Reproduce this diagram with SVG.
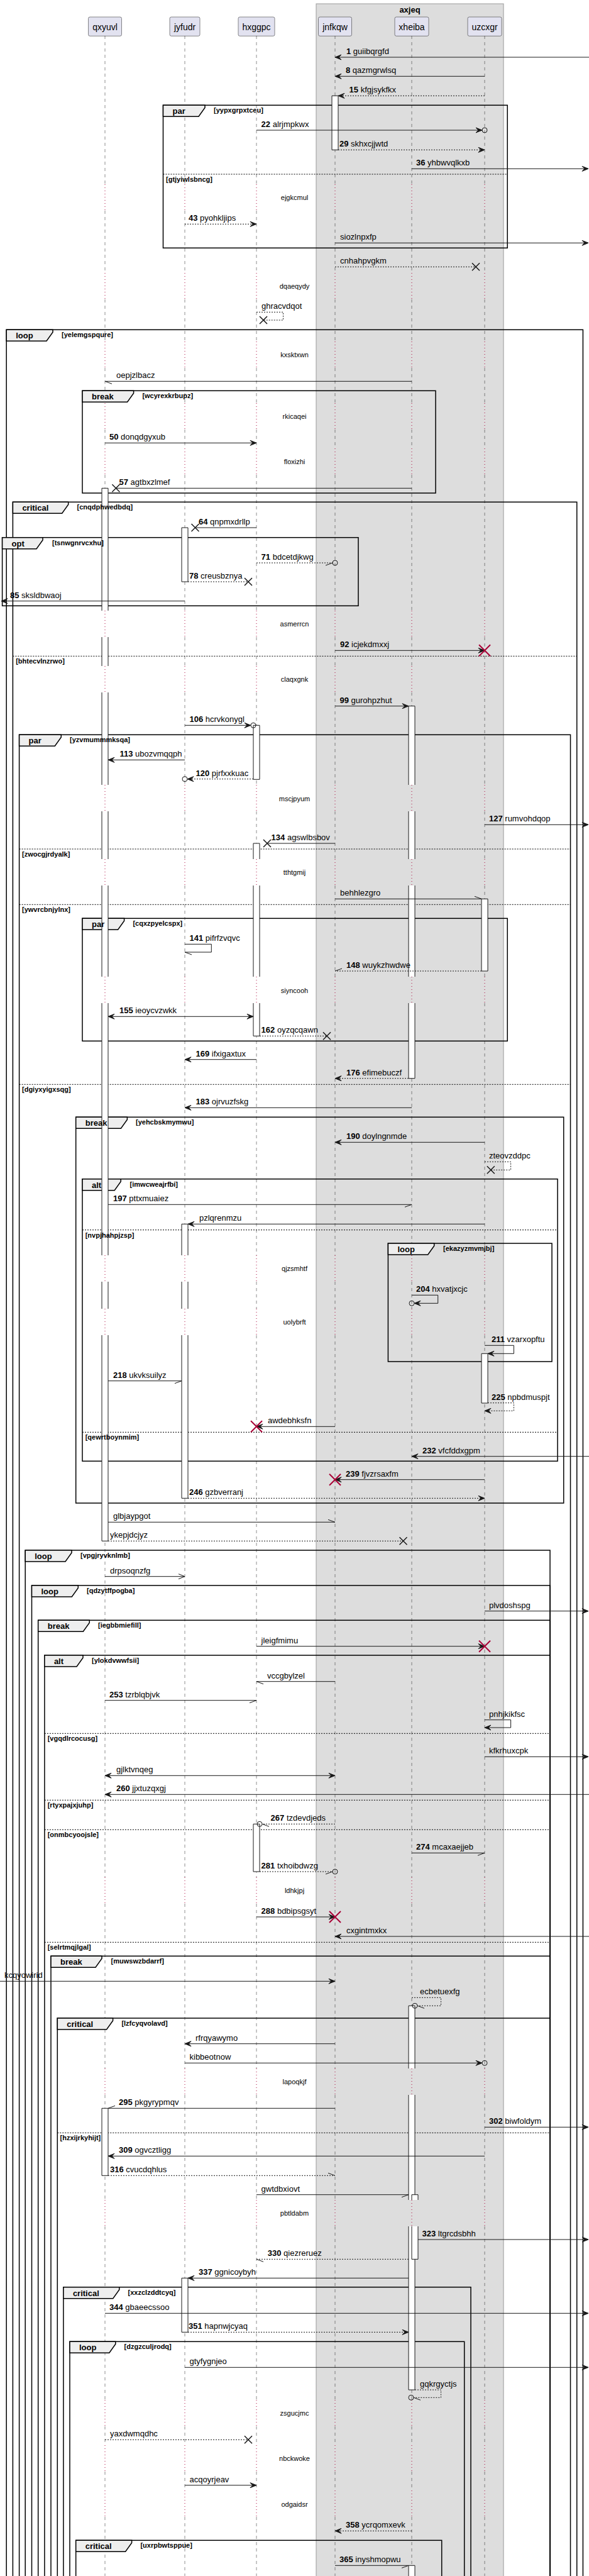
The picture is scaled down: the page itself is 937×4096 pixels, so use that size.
<svg xmlns="http://www.w3.org/2000/svg" xmlns:xlink="http://www.w3.org/1999/xlink" width="937" height="4096" viewBox="0 0 937 4096">
<style>
text{font-family:"Liberation Sans",Arial,sans-serif;fill:#000}
.pn{font-size:14px;text-anchor:middle}
.bt{font-size:13px;font-weight:bold;text-anchor:middle}
.m{font-size:13px}
.b{font-weight:bold}
.dl{font-size:11px;text-anchor:middle}
.k{font-size:13px;font-weight:bold}
.c{font-size:11px;font-weight:bold}
.ln{stroke:#181818;stroke-width:1;fill:none}
.ds{stroke-dasharray:2,2}
.hf{fill:#181818;stroke:#181818;stroke-width:1}
.hs{stroke:#181818;stroke-width:1;fill:none}
.ci{fill:none;stroke:#181818;stroke-width:1}
.xk{stroke:#181818;stroke-width:1.5;fill:none}
.xr{stroke:#A80036;stroke-width:2;fill:none}
.fr{fill:none;stroke:#000;stroke-width:1.5}
.tb{fill:#EEEEEE;stroke:#000;stroke-width:1.5}
.el{stroke:#000;stroke-width:1;stroke-dasharray:2,2;fill:none}
.af{fill:#fff;stroke:none}
.as{fill:none;stroke:#181818;stroke-width:1}
.lla{stroke:#181818;stroke-width:0.5;stroke-dasharray:5,5;fill:none}
.llb{stroke:#A80036;stroke-width:1;stroke-dasharray:1,4;fill:none}
.pb{fill:#E2E2F0;stroke:#181818;stroke-width:0.5}
</style>
<defs>
<polygon id="hR" points="0,0 -10,-4 -6,0 -10,4"/>
<polygon id="hL" points="0,0 10,-4 6,0 10,4"/>
<path id="lowR" d="M0,0L-11,4"/>
<path id="upR" d="M0,0L-11,-4"/>
<path id="lowL" d="M0,0L11,4"/>
<path id="upL" d="M0,0L11,-4"/>
<path id="openR" d="M-10,-4L0,0L-10,4"/>
<path id="xK" d="M-6,-6L6,6M-6,6L6,-6"/>
<path id="xR" d="M-9,-9L9,9M-9,9L9,-9"/>
<circle id="cI" r="4"/>
<path id="llA" d="M0,57V293M0,335V434M0,476V543M0,585V641M0,683V713M0,755V971M0,1013V1059M0,1101V1248M0,1290V1366M0,1408V1553M0,1595V1996M0,2038V2081M0,2123V2985M0,3027V3289M0,3331V3498M0,3540V3816M0,3858V3888M0,3930V3960M0,4002V4096"/>
<path id="llB" d="M0,293V335M0,434V476M0,543V585M0,641V683M0,713V755M0,971V1013M0,1059V1101M0,1248V1290M0,1366V1408M0,1553V1595M0,1996V2038M0,2081V2123M0,2985V3027M0,3289V3331M0,3498V3540M0,3816V3858M0,3888V3930M0,3960V4002"/>
</defs>
<rect width="937" height="4096" fill="#fff"/>
<g id="box-axjeq">
<rect x="503" y="6" width="298" height="4100" fill="#DDDDDD" stroke="#999" stroke-width="1"/>
<text class="bt" x="652" y="20">axjeq</text>
</g>
<g id="p-qxyuvl"><rect class="pb" x="140.5" y="27" width="53" height="30.3" rx="2.5"/><text class="pn" x="167" y="47.5">qxyuvl</text><use xlink:href="#llA" x="167" class="lla"/><use xlink:href="#llB" x="167" class="llb"/></g>
<g id="p-jyfudr"><rect class="pb" x="270" y="27" width="48" height="30.3" rx="2.5"/><text class="pn" x="294" y="47.5">jyfudr</text><use xlink:href="#llA" x="294" class="lla"/><use xlink:href="#llB" x="294" class="llb"/></g>
<g id="p-hxggpc"><rect class="pb" x="379" y="27" width="58" height="30.3" rx="2.5"/><text class="pn" x="408" y="47.5">hxggpc</text><use xlink:href="#llA" x="408" class="lla"/><use xlink:href="#llB" x="408" class="llb"/></g>
<g id="p-jnfkqw"><rect class="pb" x="506.5" y="27" width="53" height="30.3" rx="2.5"/><text class="pn" x="533" y="47.5">jnfkqw</text><use xlink:href="#llA" x="533" class="lla"/><use xlink:href="#llB" x="533" class="llb"/></g>
<g id="p-xheiba"><rect class="pb" x="628" y="27" width="54" height="30.3" rx="2.5"/><text class="pn" x="655" y="47.5">xheiba</text><use xlink:href="#llA" x="655" class="lla"/><use xlink:href="#llB" x="655" class="llb"/></g>
<g id="p-uzcxgr"><rect class="pb" x="744" y="27" width="54" height="30.3" rx="2.5"/><text class="pn" x="771" y="47.5">uzcxgr</text><use xlink:href="#llA" x="771" class="lla"/><use xlink:href="#llB" x="771" class="llb"/></g>
<g id="frames">
<rect class="fr" x="259.5" y="167.3" width="547.7" height="227"/><polygon class="tb" points="259.5,167.3 326,167.3 326,171.3 316,185.3 259.5,185.3"/><path class="el" d="M259.5,277H807.2"/>
<rect class="fr" x="10.2" y="524.3" width="917.2" height="3600"/><polygon class="tb" points="10.2,524.3 84,524.3 84,528.3 74,542.3 10.2,542.3"/>
<rect class="fr" x="131" y="621.3" width="562" height="162.7"/><polygon class="tb" points="131,621.3 212.6,621.3 212.6,625.3 202.6,639.3 131,639.3"/>
<rect class="fr" x="20.4" y="798.3" width="897.3" height="3320"/><polygon class="tb" points="20.4,798.3 108.7,798.3 108.7,802.3 98.7,816.3 20.4,816.3"/><path class="el" d="M20.4,1043.3H917.7"/>
<rect class="fr" x="3.6" y="854.7" width="566.4" height="108.6"/><polygon class="tb" points="3.6,854.7 68,854.7 68,858.7 58,872.7 3.6,872.7"/>
<rect class="fr" x="30.6" y="1168.3" width="876.9" height="2950"/><polygon class="tb" points="30.6,1168.3 97.3,1168.3 97.3,1172.3 87.3,1186.3 30.6,1186.3"/><path class="el" d="M30.6,1350H907.5M30.6,1438.3H907.5M30.6,1724.3H907.5"/>
<rect class="fr" x="131" y="1460.3" width="676.2" height="195"/><polygon class="tb" points="131,1460.3 197.6,1460.3 197.6,1464.3 187.6,1478.3 131,1478.3"/>
<rect class="fr" x="120.7" y="1776.3" width="776" height="613.7"/><polygon class="tb" points="120.7,1776.3 202.4,1776.3 202.4,1780.3 192.4,1794.3 120.7,1794.3"/>
<rect class="fr" x="131" y="1874.7" width="756" height="448.6"/><polygon class="tb" points="131,1874.7 192.2,1874.7 192.2,1878.7 182.2,1892.7 131,1892.7"/><path class="el" d="M131,1955.7H887M131,2277.3H887"/>
<rect class="fr" x="617.4" y="1977" width="260.6" height="188"/><polygon class="tb" points="617.4,1977 690.7,1977 690.7,1981 680.7,1995 617.4,1995"/>
<rect class="fr" x="40.2" y="2465" width="834.8" height="1660"/><polygon class="tb" points="40.2,2465 114,2465 114,2469 104,2483 40.2,2483"/>
<rect class="fr" x="50.5" y="2521" width="824.5" height="1600"/><polygon class="tb" points="50.5,2521 124.3,2521 124.3,2525 114.3,2539 50.5,2539"/>
<rect class="fr" x="60.7" y="2576.3" width="814.3" height="1550"/><polygon class="tb" points="60.7,2576.3 142.3,2576.3 142.3,2580.3 132.3,2594.3 60.7,2594.3"/>
<rect class="fr" x="70.9" y="2632" width="804.1" height="1500"/><polygon class="tb" points="70.9,2632 132,2632 132,2636 122,2650 70.9,2650"/><path class="el" d="M70.9,2756.3H875M70.9,2862.3H875M70.9,2909.3H875M70.9,3088.3H875"/>
<rect class="fr" x="81" y="3110.3" width="794" height="1000"/><polygon class="tb" points="81,3110.3 162,3110.3 162,3114.3 152,3128.3 81,3128.3"/>
<rect class="fr" x="91.3" y="3209" width="783.7" height="900"/><polygon class="tb" points="91.3,3209 179.6,3209 179.6,3213 169.6,3227 91.3,3227"/><path class="el" d="M91.3,3391.3H875"/>
<rect class="fr" x="100.9" y="3636.7" width="648.1" height="500"/><polygon class="tb" points="100.9,3636.7 189.8,3636.7 189.8,3640.7 179.8,3654.7 100.9,3654.7"/>
<rect class="fr" x="111" y="3723.3" width="627.7" height="400"/><polygon class="tb" points="111,3723.3 183.8,3723.3 183.8,3727.3 173.8,3741.3 111,3741.3"/>
<rect class="fr" x="120.7" y="4039.3" width="582" height="100"/><polygon class="tb" points="120.7,4039.3 209.6,4039.3 209.6,4043.3 199.6,4057.3 120.7,4057.3"/>
</g>
<g id="activations">
<path class="af" d="M528,152.3H538V238.3H528Z"/><path class="as" d="M528,152.3H538V238.3H528Z"/>
<path class="af" d="M162,776.3H172V971H162ZM162,1013H172V1059H162ZM162,1101H172V1248H162ZM162,1290H172V1366H162ZM162,1408H172V1553H162ZM162,1595H172V1996H162ZM162,2038H172V2081H162ZM162,2123H172V2450.3H162Z"/>
<path class="as" d="M162,971V776.3H172V971M162,1013V1059M172,1013V1059M162,1101V1248M172,1101V1248M162,1290V1366M172,1290V1366M162,1408V1553M172,1408V1553M162,1595V1996M172,1595V1996M162,2038V2081M172,2038V2081M162,2123V2450.3H172V2123"/>
<path class="af" d="M289,839H299V925H289Z"/><path class="as" d="M289,839H299V925H289Z"/>
<path class="af" d="M650,1122.7H660V1248H650ZM650,1290H660V1366H650ZM650,1408H660V1553H650ZM650,1595H660V1714.7H650Z"/>
<path class="as" d="M650,1248V1122.7H660V1248M650,1290V1366M660,1290V1366M650,1408V1553M660,1408V1553M650,1595V1714.7H660V1595"/>
<path class="af" d="M403,1153.3H413V1239.3H403Z"/><path class="as" d="M403,1153.3H413V1239.3H403Z"/>
<path class="af" d="M403,1341H413V1366H403ZM403,1408H413V1553H403ZM403,1595H413V1647.3H403Z"/>
<path class="as" d="M403,1366V1341H413V1366M403,1408V1553M413,1408V1553M403,1595V1647.3H413V1595"/>
<path class="af" d="M766,1429.3H776V1544H766Z"/><path class="as" d="M766,1429.3H776V1544H766Z"/>
<path class="af" d="M289,1946.3H299V1996H289ZM289,2038H299V2081H289ZM289,2123H299V2382.3H289Z"/>
<path class="as" d="M289,1996V1946.3H299V1996M289,2038V2081M299,2038V2081M289,2123V2382.3H299V2123"/>
<path class="af" d="M766,2152.3H776V2231H766Z"/><path class="as" d="M766,2152.3H776V2231H766Z"/>
<path class="af" d="M403,2900.3H413V2976H403Z"/><path class="as" d="M403,2900.3H413V2976H403Z"/>
<path class="af" d="M650,3189.3H660V3289H650ZM650,3331H660V3498H650ZM650,3540H660V3800H650Z"/>
<path class="as" d="M650,3289V3189.3H660V3289M650,3331V3498M660,3331V3498M650,3540V3800H660V3540"/>
<path class="af" d="M655,3489.7H665V3498H655ZM655,3540H665V3592.3H655Z"/>
<path class="as" d="M655,3498V3489.7H665V3498M655,3540V3592.3H665V3540"/>
<path class="af" d="M162,3352.3H172V3459.3H162Z"/><path class="as" d="M162,3352.3H172V3459.3H162Z"/>
<path class="af" d="M289,3622.3H299V3708.3H289Z"/><path class="as" d="M289,3622.3H299V3708.3H289Z"/>
<path class="af" d="M650,4079.3H660V4110H650Z"/><path class="as" d="M650,4110V4079.3H660V4110"/>
</g>
<g id="frame-labels">
<text class="k" x="274.5" y="181.3">par</text><text class="c" x="340" y="179.3">[yypxgrpxtceu]</text><text class="c" x="264" y="289">[gtjyiwlsbncg]</text>
<text class="k" x="25.2" y="538.3">loop</text><text class="c" x="98" y="536.3">[yelemgspqure]</text>
<text class="k" x="146" y="635.3">break</text><text class="c" x="226.4" y="633.3">[wcyrexkrbupz]</text>
<text class="k" x="35.4" y="812.3">critical</text><text class="c" x="122.5" y="810.3">[cnqdphwedbdq]</text><text class="c" x="25.2" y="1055.3">[bhtecvlnzrwo]</text>
<text class="k" x="18.6" y="868.7">opt</text><text class="c" x="83" y="866.7">[tsnwgnrvcxhu]</text>
<text class="k" x="45.6" y="1182.3">par</text><text class="c" x="111" y="1180.3">[yzvmummmksqa]</text><text class="c" x="35" y="1362">[zwocgjrdyalk]</text><text class="c" x="35" y="1450.3">[ywvrcbnjylnx]</text><text class="c" x="35" y="1736.3">[dgiyxyigxsqg]</text>
<text class="k" x="146" y="1474.3">par</text><text class="c" x="211.4" y="1472.3">[cqxzpyelcspx]</text>
<text class="k" x="135.7" y="1790.3">break</text><text class="c" x="216" y="1788.3">[yehcbskmymwu]</text>
<text class="k" x="146" y="1888.7">alt</text><text class="c" x="206.6" y="1886.7">[imwcweajrfbi]</text><text class="c" x="135.7" y="1967.7">[nvpjhahpjzsp]</text><text class="c" x="135.7" y="2289.3">[qewrtboynmim]</text>
<text class="k" x="632.4" y="1991">loop</text><text class="c" x="705" y="1989">[ekazyzmvmjbj]</text>
<text class="k" x="55.2" y="2479">loop</text><text class="c" x="128" y="2477">[vpgjryvknlmb]</text>
<text class="k" x="65.5" y="2535">loop</text><text class="c" x="138" y="2533">[qdzytffpogba]</text>
<text class="k" x="75.7" y="2590.3">break</text><text class="c" x="156" y="2588.3">[iegbbmiefill]</text>
<text class="k" x="85.9" y="2646">alt</text><text class="c" x="146" y="2644">[ylokdvwwfsii]</text><text class="c" x="75.7" y="2768.3">[vgqdlrcocusg]</text><text class="c" x="75.7" y="2874.3">[rtyxpajxjuhp]</text><text class="c" x="75.7" y="2921.3">[onmbcyoojsle]</text><text class="c" x="75.7" y="3100.3">[selrtmqjlgal]</text>
<text class="k" x="96" y="3124.3">break</text><text class="c" x="176.6" y="3122.3">[muwswzbdarrf]</text>
<text class="k" x="106.3" y="3223">critical</text><text class="c" x="193.4" y="3221">[lzfcyqvolavd]</text><text class="c" x="95.5" y="3403.3">[hzxijrkyhijt]</text>
<text class="k" x="115.9" y="3650.7">critical</text><text class="c" x="203.6" y="3648.7">[xxzclzddtcyq]</text>
<text class="k" x="126" y="3737.3">loop</text><text class="c" x="197.6" y="3735.3">[dzgzculjrodq]</text>
<text class="k" x="135.7" y="4053.3">critical</text><text class="c" x="223.4" y="4051.3">[uxrpbwtsppue]</text>
</g>
<g id="delays">
<text class="dl" x="468.5" y="318.3">ejgkcmul</text>
<text class="dl" x="468.5" y="458.7">dqaeqydy</text>
<text class="dl" x="468.5" y="568.3">kxsktxwn</text>
<text class="dl" x="468.5" y="666.3">rkicaqei</text>
<text class="dl" x="468.5" y="738.3">floxizhi</text>
<text class="dl" x="468.5" y="996.3">asmerrcn</text>
<text class="dl" x="468.5" y="1084.3">claqxgnk</text>
<text class="dl" x="468.5" y="1273.7">mscjpyum</text>
<text class="dl" x="468.5" y="1391.3">tthtgmij</text>
<text class="dl" x="468.5" y="1578.7">siyncooh</text>
<text class="dl" x="468.5" y="2021.3">qjzsmhtf</text>
<text class="dl" x="468.5" y="2106.3">uolybrft</text>
<text class="dl" x="468.5" y="3010.3">ldhkjpj</text>
<text class="dl" x="468.5" y="3314.3">lapoqkjf</text>
<text class="dl" x="468.5" y="3523.3">pbtldabm</text>
<text class="dl" x="468.5" y="3841.3">zsgucjmc</text>
<text class="dl" x="468.5" y="3913.3">nbckwoke</text>
<text class="dl" x="468.5" y="3985.7">odgaidsr</text>
</g>
<g id="connectors">
<path class="ln" d="M937,91H533"/><use xlink:href="#hL" x="533" y="91" class="hf"/><text class="m" x="551" y="86"><tspan class="b">1</tspan> guiibqrgfd</text>
<path class="ln" d="M771,121.3H533"/><use xlink:href="#hL" x="533" y="121.3" class="hf"/><text class="m" x="550" y="116.3"><tspan class="b">8</tspan> qazmgrwlsq</text>
<path class="ln ds" d="M771,152.3H538"/><use xlink:href="#hL" x="538" y="152.3" class="hf"/><text class="m" x="555.6" y="147.3"><tspan class="b">15</tspan> kfgjsykfkx</text>
<path class="ln" d="M408,207H767"/><use xlink:href="#hR" x="767" y="207" class="hf"/><use xlink:href="#cI" x="771" y="207" class="ci"/><text class="m" x="415.6" y="202"><tspan class="b">22</tspan> alrjmpkwx</text>
<path class="ln ds" d="M538,238.3H771"/><use xlink:href="#hR" x="771" y="238.3" class="hf"/><text class="m" x="540" y="233.3"><tspan class="b">29</tspan> skhxcjjwtd</text>
<path class="ln" d="M655,268.3H936"/><use xlink:href="#hR" x="936" y="268.3" class="hf"/><text class="m" x="662" y="263.3"><tspan class="b">36</tspan> yhbwvqlkxb</text>
<path class="ln ds" d="M294,356.3H408"/><use xlink:href="#hR" x="408" y="356.3" class="hf"/><text class="m" x="300" y="351.3"><tspan class="b">43</tspan> pyohkljips</text>
<path class="ln" d="M533,386.3H936"/><use xlink:href="#hR" x="936" y="386.3" class="hf"/><text class="m" x="541" y="381.3">siozlnpxfp</text>
<path class="ln ds" d="M533,424.3H757"/><use xlink:href="#xK" x="757" y="424.3" class="xk"/><text class="m" x="541" y="419.3">cnhahpvgkm</text>
<path class="ln ds" d="M408,496.3H450.5V509H419"/><use xlink:href="#xK" x="419" y="509" class="xk"/><text class="m" x="416" y="491.3">ghracvdqot</text>
<path class="ln" d="M655,606.3H167"/><use xlink:href="#lowL" x="167" y="606.3" class="hs"/><text class="m" x="185" y="601.3">oepjzlbacz</text>
<path class="ln" d="M167,704.3H408"/><use xlink:href="#hR" x="408" y="704.3" class="hf"/><text class="m" x="174" y="699.3"><tspan class="b">50</tspan> donqdgyxub</text>
<path class="ln" d="M655,776.3H184.4"/><use xlink:href="#xK" x="184.4" y="776.3" class="xk"/><text class="m" x="189.5" y="771.3"><tspan class="b">57</tspan> agtbxzlmef</text>
<path class="ln" d="M408,839H310.5"/><use xlink:href="#xK" x="310.5" y="839" class="xk"/><text class="m" x="316" y="834"><tspan class="b">64</tspan> qnpmxdrllp</text>
<path class="ln ds" d="M408,895H529"/><use xlink:href="#lowR" x="529" y="895" class="hs"/><use xlink:href="#cI" x="533" y="895" class="ci"/><text class="m" x="415.6" y="890"><tspan class="b">71</tspan> bdcetdjkwg</text>
<path class="ln ds" d="M299,925H395"/><use xlink:href="#xK" x="395" y="925" class="xk"/><text class="m" x="301" y="920"><tspan class="b">78</tspan> creusbznya</text>
<path class="ln" d="M294,955.7H2"/><use xlink:href="#hL" x="2" y="955.7" class="hf"/><text class="m" x="16" y="950.7"><tspan class="b">85</tspan> sksldbwaoj</text>
<path class="ln" d="M533,1034.3H771"/><use xlink:href="#hR" x="771" y="1034.3" class="hf"/><use xlink:href="#xR" x="771" y="1034.3" class="xr"/><text class="m" x="541" y="1029.3"><tspan class="b">92</tspan> icjekdmxxj</text>
<path class="ln" d="M533,1122.7H650"/><use xlink:href="#hR" x="650" y="1122.7" class="hf"/><text class="m" x="540.5" y="1117.7"><tspan class="b">99</tspan> gurohpzhut</text>
<path class="ln" d="M294,1153.3H399"/><use xlink:href="#hR" x="399" y="1153.3" class="hf"/><use xlink:href="#cI" x="403" y="1153.3" class="ci"/><text class="m" x="301.5" y="1148.3"><tspan class="b">106</tspan> hcrvkonygl</text>
<path class="ln" d="M294,1208.3H172"/><use xlink:href="#hL" x="172" y="1208.3" class="hf"/><text class="m" x="190.4" y="1203.3"><tspan class="b">113</tspan> ubozvmqqph</text>
<path class="ln ds" d="M403,1238.7H298"/><use xlink:href="#hL" x="298" y="1238.7" class="hf"/><use xlink:href="#cI" x="294" y="1238.7" class="ci"/><text class="m" x="311.5" y="1233.7"><tspan class="b">120</tspan> pjrfxxkuac</text>
<path class="ln" d="M771,1311.3H936"/><use xlink:href="#hR" x="936" y="1311.3" class="hf"/><text class="m" x="778" y="1306.3"><tspan class="b">127</tspan> rumvohdqop</text>
<path class="ln" d="M533,1341H425"/><use xlink:href="#xK" x="425" y="1341" class="xk"/><text class="m" x="431.6" y="1336"><tspan class="b">134</tspan> agswlbsbov</text>
<path class="ln" d="M533,1429.3H766"/><use xlink:href="#upR" x="766" y="1429.3" class="hs"/><text class="m" x="541" y="1424.3">behhlezgro</text>
<path class="ln" d="M294,1501.3H336.3V1514H294"/><use xlink:href="#lowL" x="294" y="1514" class="hs"/><text class="m" x="301.5" y="1496.3"><tspan class="b">141</tspan> pifrfzvqvc</text>
<path class="ln ds" d="M766,1544H533"/><use xlink:href="#upL" x="533" y="1544" class="hs"/><text class="m" x="551" y="1539"><tspan class="b">148</tspan> wuykzhwdwe</text>
<path class="ln" d="M172,1616.3H403"/><use xlink:href="#hL" x="172" y="1616.3" class="hf"/><use xlink:href="#hR" x="403" y="1616.3" class="hf"/><text class="m" x="190" y="1611.3"><tspan class="b">155</tspan> ieoycvzwkk</text>
<path class="ln ds" d="M413,1647.3H520"/><use xlink:href="#xK" x="520" y="1647.3" class="xk"/><text class="m" x="415.6" y="1642.3"><tspan class="b">162</tspan> oyzqcqawn</text>
<path class="ln" d="M408,1684.7H294"/><use xlink:href="#hL" x="294" y="1684.7" class="hf"/><text class="m" x="311.5" y="1679.7"><tspan class="b">169</tspan> ifxigaxtux</text>
<path class="ln ds" d="M650,1714.7H533"/><use xlink:href="#hL" x="533" y="1714.7" class="hf"/><text class="m" x="551" y="1709.7"><tspan class="b">176</tspan> efimebuczf</text>
<path class="ln" d="M655,1761.3H294"/><use xlink:href="#hL" x="294" y="1761.3" class="hf"/><text class="m" x="311.5" y="1756.3"><tspan class="b">183</tspan> ojrvuzfskg</text>
<path class="ln" d="M771,1816.3H533"/><use xlink:href="#hL" x="533" y="1816.3" class="hf"/><text class="m" x="551" y="1811.3"><tspan class="b">190</tspan> doylngnmde</text>
<path class="ln ds" d="M771,1847.3H812.6V1860.3H780.8"/><use xlink:href="#xK" x="780.8" y="1860.3" class="xk"/><text class="m" x="778" y="1842.3">zteovzddpc</text>
<path class="ln" d="M172,1915.3H655"/><use xlink:href="#lowR" x="655" y="1915.3" class="hs"/><text class="m" x="180" y="1910.3"><tspan class="b">197</tspan> pttxmuaiez</text>
<path class="ln" d="M771,1946.3H299"/><use xlink:href="#hL" x="299" y="1946.3" class="hf"/><text class="m" x="317" y="1941.3">pzlqrenmzu</text>
<path class="ln" d="M655,2059.3H696.7V2072.3H659"/><use xlink:href="#hL" x="659" y="2072.3" class="hf"/><use xlink:href="#cI" x="655" y="2072.3" class="ci"/><text class="m" x="662" y="2054.3"><tspan class="b">204</tspan> hxvatjxcjc</text>
<path class="ln" d="M771,2139.3H817.4V2152.3H776"/><use xlink:href="#hL" x="776" y="2152.3" class="hf"/><text class="m" x="782" y="2134.3"><tspan class="b">211</tspan> vzarxopftu</text>
<path class="ln" d="M172,2195.7H289"/><use xlink:href="#lowR" x="289" y="2195.7" class="hs"/><text class="m" x="180" y="2190.7"><tspan class="b">218</tspan> ukvksuilyz</text>
<path class="ln ds" d="M776,2230.7H817.4V2243.3H771"/><use xlink:href="#hL" x="771" y="2243.3" class="hf"/><text class="m" x="782" y="2225.7"><tspan class="b">225</tspan> npbdmuspjt</text>
<path class="ln" d="M533,2268.3H408"/><use xlink:href="#hL" x="408" y="2268.3" class="hf"/><use xlink:href="#xR" x="408" y="2268.3" class="xr"/><text class="m" x="426" y="2263.3">awdebhksfn</text>
<path class="ln" d="M937,2315.7H655"/><use xlink:href="#hL" x="655" y="2315.7" class="hf"/><text class="m" x="672" y="2310.7"><tspan class="b">232</tspan> vfcfddxgpm</text>
<path class="ln" d="M771,2352.7H533"/><use xlink:href="#hL" x="533" y="2352.7" class="hf"/><use xlink:href="#xR" x="533" y="2352.7" class="xr"/><text class="m" x="550" y="2347.7"><tspan class="b">239</tspan> fjvzrsaxfm</text>
<path class="ln ds" d="M299,2382.3H771"/><use xlink:href="#hR" x="771" y="2382.3" class="hf"/><text class="m" x="301" y="2377.3"><tspan class="b">246</tspan> gzbverranj</text>
<path class="ln" d="M172,2420.3H533"/><use xlink:href="#upR" x="533" y="2420.3" class="hs"/><text class="m" x="180" y="2415.3">glbjaypgot</text>
<path class="ln ds" d="M172,2450.3H641.5"/><use xlink:href="#xK" x="641.5" y="2450.3" class="xk"/><text class="m" x="175" y="2445.3">ykepjdcjyz</text>
<path class="ln" d="M167,2506.7H294"/><use xlink:href="#openR" x="294" y="2506.7" class="hs"/><text class="m" x="175" y="2501.7">drpsoqnzfg</text>
<path class="ln" d="M771,2561.7H936"/><use xlink:href="#hR" x="936" y="2561.7" class="hf"/><text class="m" x="778" y="2556.7">plvdoshspg</text>
<path class="ln" d="M408,2617.7H771"/><use xlink:href="#hR" x="771" y="2617.7" class="hf"/><use xlink:href="#xR" x="771" y="2617.7" class="xr"/><text class="m" x="415.6" y="2612.7">jleigfmimu</text>
<path class="ln" d="M533,2673.7H408"/><use xlink:href="#lowL" x="408" y="2673.7" class="hs"/><text class="m" x="425" y="2668.7">vccgbylzel</text>
<path class="ln" d="M167,2703.7H408"/><use xlink:href="#lowR" x="408" y="2703.7" class="hs"/><text class="m" x="174" y="2698.7"><tspan class="b">253</tspan> tzrblqbjvk</text>
<path class="ln" d="M771,2734.7H812.6V2747H771"/><use xlink:href="#hL" x="771" y="2747" class="hf"/><text class="m" x="778" y="2729.7">pnhjkikfsc</text>
<path class="ln" d="M771,2793.3H936"/><use xlink:href="#hR" x="936" y="2793.3" class="hf"/><text class="m" x="778" y="2788.3">kfkrhuxcpk</text>
<path class="ln" d="M167,2823.3H533"/><use xlink:href="#hL" x="167" y="2823.3" class="hf"/><use xlink:href="#hR" x="533" y="2823.3" class="hf"/><text class="m" x="185" y="2818.3">gjlktvnqeg</text>
<path class="ln" d="M937,2853.3H167"/><use xlink:href="#hL" x="167" y="2853.3" class="hf"/><text class="m" x="185" y="2848.3"><tspan class="b">260</tspan> jjxtuzqxgj</text>
<path class="ln ds" d="M533,2900.3H417"/><use xlink:href="#lowL" x="417" y="2900.3" class="hs"/><use xlink:href="#cI" x="413" y="2900.3" class="ci"/><text class="m" x="430.6" y="2895.3"><tspan class="b">267</tspan> tzdevdjeds</text>
<path class="ln" d="M655,2946.3H771"/><use xlink:href="#lowR" x="771" y="2946.3" class="hs"/><text class="m" x="662" y="2941.3"><tspan class="b">274</tspan> mcaxaejjeb</text>
<path class="ln ds" d="M413,2976H529"/><use xlink:href="#lowR" x="529" y="2976" class="hs"/><use xlink:href="#cI" x="533" y="2976" class="ci"/><text class="m" x="415.6" y="2971"><tspan class="b">281</tspan> txhoibdwzg</text>
<path class="ln" d="M408,3048H533"/><use xlink:href="#hR" x="533" y="3048" class="hf"/><use xlink:href="#xR" x="533" y="3048" class="xr"/><text class="m" x="415.6" y="3043"><tspan class="b">288</tspan> bdbipsgsyt</text>
<path class="ln" d="M937,3079H533"/><use xlink:href="#hL" x="533" y="3079" class="hf"/><text class="m" x="551" y="3074">cxgintmxkx</text>
<path class="ln" d="M0,3150.3H533"/><use xlink:href="#hR" x="533" y="3150.3" class="hf"/><text class="m" x="7" y="3145.3">kcqyowirid</text>
<path class="ln ds" d="M655,3176.3H701.5V3189.3H664"/><use xlink:href="#lowL" x="664" y="3189.3" class="hs"/><use xlink:href="#cI" x="660" y="3189.3" class="ci"/><text class="m" x="668" y="3171.3">ecbetuexfg</text>
<path class="ln" d="M533,3249.7H294"/><use xlink:href="#hL" x="294" y="3249.7" class="hf"/><text class="m" x="311" y="3244.7">rfrqyawymo</text>
<path class="ln" d="M294,3280.3H767"/><use xlink:href="#hR" x="767" y="3280.3" class="hf"/><use xlink:href="#cI" x="771" y="3280.3" class="ci"/><text class="m" x="301.5" y="3275.3">kibbeotnow</text>
<path class="ln" d="M533,3352.3H172"/><use xlink:href="#upL" x="172" y="3352.3" class="hs"/><text class="m" x="189" y="3347.3"><tspan class="b">295</tspan> pkgyrypmqv</text>
<path class="ln" d="M771,3382.3H936"/><use xlink:href="#hR" x="936" y="3382.3" class="hf"/><text class="m" x="778" y="3377.3"><tspan class="b">302</tspan> biwfoldym</text>
<path class="ln" d="M771,3428.3H172"/><use xlink:href="#hL" x="172" y="3428.3" class="hf"/><text class="m" x="189" y="3423.3"><tspan class="b">309</tspan> ogvcztligg</text>
<path class="ln ds" d="M172,3459.3H533"/><use xlink:href="#upR" x="533" y="3459.3" class="hs"/><text class="m" x="175" y="3454.3"><tspan class="b">316</tspan> cvucdqhlus</text>
<path class="ln" d="M408,3489.7H650"/><use xlink:href="#lowR" x="650" y="3489.7" class="hs"/><text class="m" x="415.6" y="3484.7">gwtdbxiovt</text>
<path class="ln" d="M665,3561H936"/><use xlink:href="#hR" x="936" y="3561" class="hf"/><text class="m" x="671.5" y="3556"><tspan class="b">323</tspan> ltgrcdsbhh</text>
<path class="ln ds" d="M650,3592.3H408"/><use xlink:href="#lowL" x="408" y="3592.3" class="hs"/><text class="m" x="425.8" y="3587.3"><tspan class="b">330</tspan> qiezreruez</text>
<path class="ln" d="M650,3622.3H299"/><use xlink:href="#hL" x="299" y="3622.3" class="hf"/><text class="m" x="316" y="3617.3"><tspan class="b">337</tspan> ggnicoybyh</text>
<path class="ln" d="M167,3678.3H936"/><use xlink:href="#hR" x="936" y="3678.3" class="hf"/><text class="m" x="174" y="3673.3"><tspan class="b">344</tspan> gbaeecssoo</text>
<path class="ln ds" d="M299,3708.3H650"/><use xlink:href="#hR" x="650" y="3708.3" class="hf"/><text class="m" x="300" y="3703.3"><tspan class="b">351</tspan> hapnwjcyaq</text>
<path class="ln" d="M294,3764.3H936"/><use xlink:href="#hR" x="936" y="3764.3" class="hf"/><text class="m" x="301.5" y="3759.3">gtyfygnjeo</text>
<path class="ln ds" d="M660,3800H701.5V3812.3H658"/><use xlink:href="#lowL" x="658" y="3812.3" class="hs"/><use xlink:href="#cI" x="654" y="3812.3" class="ci"/><text class="m" x="668" y="3795">gqkrgyctjs</text>
<path class="ln ds" d="M167,3879.3H395"/><use xlink:href="#xK" x="395" y="3879.3" class="xk"/><text class="m" x="175" y="3874.3">yaxdwmqdhc</text>
<path class="ln" d="M294,3951.7H408"/><use xlink:href="#hR" x="408" y="3951.7" class="hf"/><text class="m" x="301.5" y="3946.7">acqoyrjeav</text>
<path class="ln ds" d="M655,4024.3H533"/><use xlink:href="#hL" x="533" y="4024.3" class="hf"/><text class="m" x="550" y="4019.3"><tspan class="b">358</tspan> ycrqomxevk</text>
<path class="ln" d="M533,4079.3H650"/><use xlink:href="#lowR" x="650" y="4079.3" class="hs"/><text class="m" x="540" y="4074.3"><tspan class="b">365</tspan> inyshmopwu</text>
</g>
</svg>
